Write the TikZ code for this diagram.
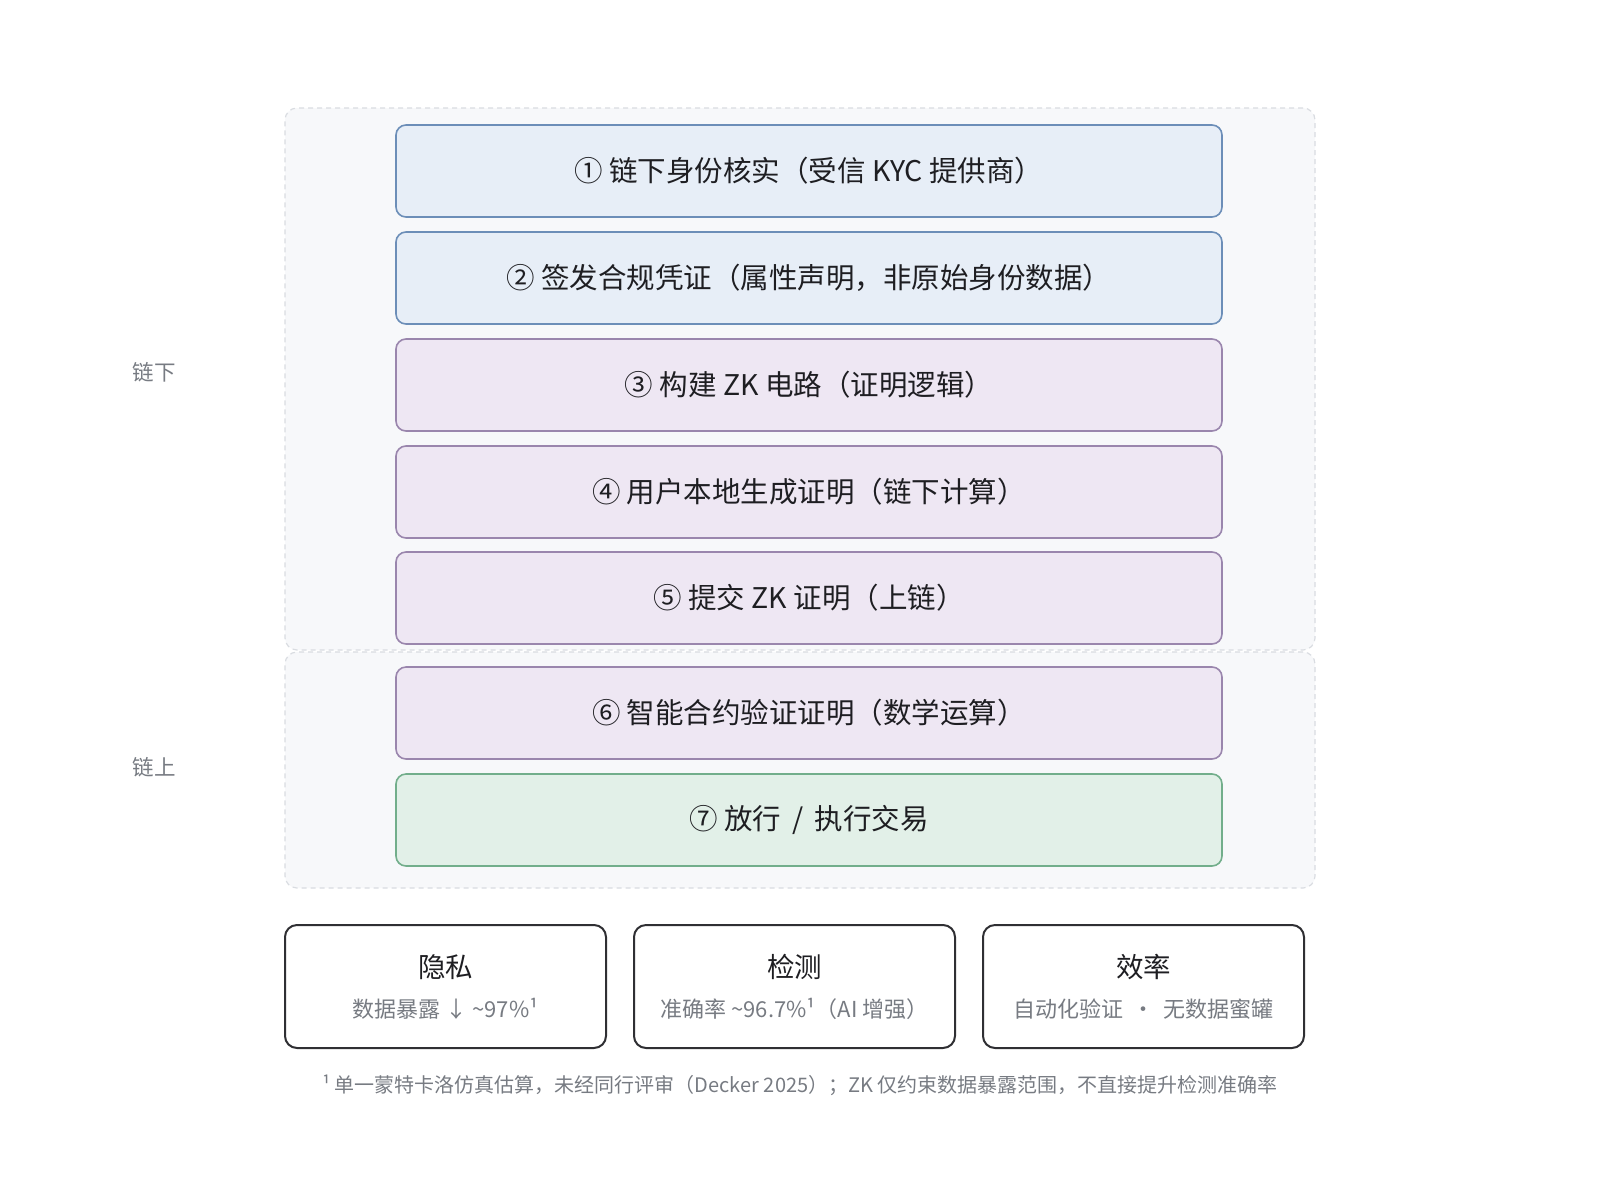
\documentclass[tikz,border=0pt]{standalone}
\usepackage{fontspec}
\setmainfont{Noto Sans CJK SC}
\usetikzlibrary{positioning}
\definecolor{grpfill}{HTML}{F7F8FA}
\definecolor{grpdraw}{HTML}{D9DCE1}
\definecolor{bluefill}{HTML}{E7EEF7}
\definecolor{bluedraw}{HTML}{6C8EB8}
\definecolor{purpfill}{HTML}{EEE7F3}
\definecolor{purpdraw}{HTML}{9A86AD}
\definecolor{greenfill}{HTML}{E2F0E8}
\definecolor{greendraw}{HTML}{72AE8B}
\definecolor{darktext}{HTML}{1E1E22}
\definecolor{graytext}{HTML}{777B82}
\definecolor{cardraw}{HTML}{2F2F33}
\newcommand{\tld}{\char126\relax}
\tikzset{
  grp/.style={draw=grpdraw, fill=grpfill, dash pattern=on 5pt off 4pt, line width=1.2pt,
    rounded corners=12pt, minimum width=1030pt, inner sep=0pt},
  stepbox/.style={rounded corners=10pt, line width=1.6pt, minimum width=826pt,
    minimum height=92pt, inner sep=0pt, text=darktext,
    font=\fontsize{28.5}{32}\selectfont},
  bluestep/.style={stepbox, draw=bluedraw, fill=bluefill},
  purpstep/.style={stepbox, draw=purpdraw, fill=purpfill},
  greenstep/.style={stepbox, draw=greendraw, fill=greenfill},
  card/.style={draw=cardraw, fill=white, line width=2pt, rounded corners=12pt,
    minimum width=321pt, minimum height=123pt, inner sep=0pt},
  cardtitle/.style={text=darktext, inner sep=0pt, font=\fontsize{27.5}{31}\selectfont},
  cardsub/.style={text=graytext, inner sep=0pt, font=\fontsize{22}{26}\selectfont},
  sidelabel/.style={text=graytext, inner sep=0pt, font=\fontsize{21.5}{25}\selectfont},
  footnote/.style={text=graytext, inner sep=0pt, font=\fontsize{20}{24}\selectfont}
}
\begin{document}
\begin{tikzpicture}[x=1pt,y=-1pt]
\useasboundingbox (0,0) rectangle (1600,1200);
% groups
\node[grp, minimum height=542pt] (offchain) at (800,379) {};
\node[grp, minimum height=236pt] (onchain) at (800,770) {};
\node[sidelabel] (offlabel) at (154,372) {链下};
\node[sidelabel] (onlabel) at (154,767) {链上};
% steps
\node[bluestep] (s1) at (809,171) {① 链下身份核实（受信 KYC 提供商）};
\node[bluestep] (s2) at (809,278) {② 签发合规凭证（属性声明，非原始身份数据）};
\node[purpstep] (s3) at (809,385) {③ 构建 ZK 电路（证明逻辑）};
\node[purpstep] (s4) at (809,492) {④ 用户本地生成证明（链下计算）};
\node[purpstep] (s5) at (809,598) {⑤ 提交 ZK 证明（上链）};
\node[purpstep] (s6) at (809,713) {⑥ 智能合约验证证明（数学运算）};
\node[greenstep] (s7) at (809,820) {⑦ 放行 \,/\, 执行交易};
% cards
\node[card] (c1) at (445.5,986.5) {};
\node[card] (c2) at (794.5,986.5) {};
\node[card] (c3) at (1143.5,986.5) {};
\node[cardtitle] (t1) at (445.5,967) {隐私};
\node[cardsub] (u1) at (445.5,1009) {数据暴露 ↓ \tld97\%¹};
\node[cardtitle] (t2) at (794.5,967) {检测};
\node[cardsub] (u2) at (794.5,1009) {准确率 \tld96.7\%¹（AI 增强）};
\node[cardtitle] (t3) at (1143.5,967) {效率};
\node[cardsub] (u3) at (1143.5,1009) {自动化验证 \,·\, 无数据蜜罐};
% footnote
\node[footnote] (fn) at (800,1085) {¹ 单一蒙特卡洛仿真估算，未经同行评审（Decker 2025）；ZK 仅约束数据暴露范围，不直接提升检测准确率};
\end{tikzpicture}
\end{document}
